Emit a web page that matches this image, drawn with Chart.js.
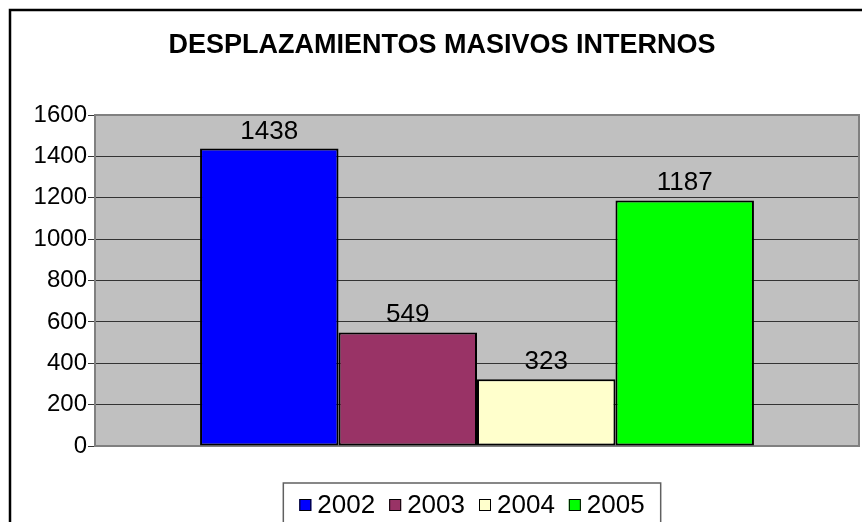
<!DOCTYPE html>
<html>
<head>
<meta charset="utf-8">
<script src="https://cdn.jsdelivr.net/npm/chart.js@4/dist/chart.umd.min.js"></script>
<style>
  html, body { margin: 0; padding: 0; background: #fff; overflow: hidden; }
  #wrap { width: 862px; height: 522px; }
</style>
</head>
<body>
<div id="wrap"><canvas id="chart"></canvas></div>
<script>
// data
const chartTitle = 'DESPLAZAMIENTOS MASIVOS INTERNOS';
const categories = [''];
const years = ['2002', '2003', '2004', '2005'];
const values = [1438, 549, 323, 1187];
const barColors = ['#0000ff', '#993366', '#ffffcc', '#00ff00'];
const yMin = 0, yMax = 1600, yStep = 200;

const FONT = '"Liberation Sans", Arial, sans-serif';

// white page, black frame, grey plot area
const backdrop = {
    id: 'backdrop',
    beforeDraw(chart) {
        const ctx = chart.ctx, a = chart.chartArea;
        ctx.save();
        ctx.fillStyle = '#fff';
        ctx.fillRect(0, 0, chart.width, chart.height);
        ctx.strokeStyle = '#000';
        ctx.lineWidth = 2.5;
        ctx.beginPath();
        ctx.moveTo(10, chart.height + 5);
        ctx.lineTo(10, 10);
        ctx.lineTo(chart.width + 5, 10);
        ctx.stroke();
        ctx.fillStyle = '#c0c0c0';
        ctx.fillRect(a.left, a.top, a.right - a.left, a.bottom - a.top);
        ctx.restore();
    },
    beforeDatasetsDraw(chart) {
        const ctx = chart.ctx, a = chart.chartArea;
        ctx.save();
        ctx.strokeStyle = '#808080';
        ctx.lineWidth = 2;
        ctx.strokeRect(a.left, a.top, a.right - a.left, a.bottom - a.top);
        ctx.restore();
    }
};

// value above each bar
const valueLabels = {
    id: 'valueLabels',
    afterDatasetsDraw(chart) {
        const ctx = chart.ctx;
        ctx.save();
        ctx.font = '26px ' + FONT;
        ctx.fillStyle = '#000';
        ctx.textAlign = 'center';
        ctx.textBaseline = 'alphabetic';
        chart.data.datasets.forEach((ds, i) => {
            chart.getDatasetMeta(i).data.forEach((bar, j) => {
                ctx.fillText(String(ds.data[j]), bar.x, bar.y - 10);
            });
        });
        ctx.restore();
    }
};

// boxed legend under the plot, like the Excel one
const boxLegend = {
    id: 'boxLegend',
    afterDraw(chart) {
        const ctx = chart.ctx, a = chart.chartArea;
        const sq = 12, gapIn = 6, gapOut = 14, pad = 16;
        const y = 505;
        ctx.save();
        ctx.font = '26px ' + FONT;
        const items = chart.data.datasets.map(ds => ({
            text: ds.label, color: ds.backgroundColor, w: ctx.measureText(ds.label).width
        }));
        let total = items.reduce((s, it) => s + sq + gapIn + it.w, 0) + gapOut * (items.length - 1);
        let x = (a.left + a.right) / 2 - 5 - total / 2;
        ctx.strokeStyle = '#606060';
        ctx.lineWidth = 1.5;
        ctx.beginPath();
        ctx.moveTo(x - pad, chart.height + 5);
        ctx.lineTo(x - pad, 483);
        ctx.lineTo(x + total + pad, 483);
        ctx.lineTo(x + total + pad, chart.height + 5);
        ctx.stroke();
        ctx.textBaseline = 'middle';
        ctx.textAlign = 'left';
        items.forEach(it => {
            ctx.fillStyle = it.color;
            ctx.fillRect(x, y - sq / 2, sq, sq);
            ctx.strokeStyle = '#000';
            ctx.lineWidth = 1;
            ctx.strokeRect(x + 0.5, y - sq / 2 + 0.5, sq - 1, sq - 1);
            ctx.fillStyle = '#000';
            ctx.fillText(it.text, x + sq + gapIn, y + 1);
            x += sq + gapIn + it.w + gapOut;
        });
        ctx.restore();
    }
};

new Chart(document.getElementById('chart'), {
    type: 'bar',
    data: {
        labels: categories,
        datasets: years.map((yr, i) => ({
            label: yr,
            data: [values[i]],
            backgroundColor: barColors[i],
            borderColor: '#000',
            borderWidth: 2,
            borderSkipped: false,
            categoryPercentage: 0.725,
            barPercentage: 1.0
        }))
    },
    options: {
        responsive: true,
        maintainAspectRatio: false,
        animation: false,
        layout: { padding: { left: 25, right: 3, top: 0, bottom: 76 } },
        plugins: {
            legend: { display: false },
            tooltip: { enabled: false },
            title: {
                display: true,
                text: chartTitle,
                color: '#000',
                font: { family: FONT, size: 27, weight: 'bold' },
                padding: { top: 29, bottom: 53.6 }
            }
        },
        scales: {
            x: { display: false },
            y: {
                min: yMin,
                max: yMax,
                ticks: {
                    stepSize: yStep,
                    color: '#000',
                    font: { family: FONT, size: 24 },
                    padding: 1,
                    callback: v => String(v)
                },
                grid: { color: '#333', lineWidth: 1, tickLength: 7 },
                border: { display: false },
                afterFit(scale) { scale.width = 70; }
            }
        }
    },
    plugins: [backdrop, valueLabels, boxLegend]
});
</script>
</body>
</html>
